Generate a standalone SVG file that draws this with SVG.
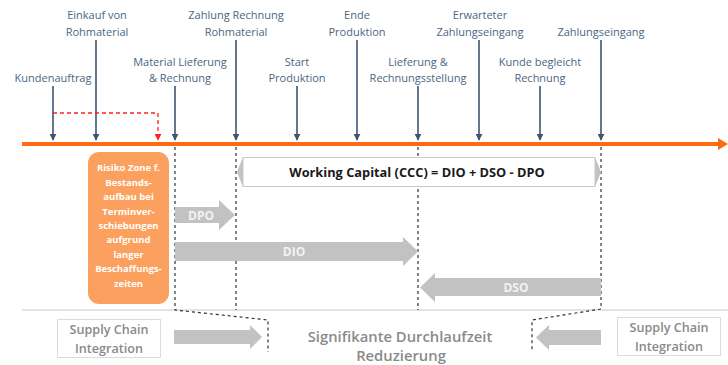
<svg xmlns="http://www.w3.org/2000/svg" width="728" height="365" viewBox="0 0 728 365">
<style>
.lbl{font-family:"Open Sans","Liberation Sans",sans-serif;font-size:11px;fill:#4a6683;text-anchor:middle}
.vt{stroke:#3b5573;stroke-width:1.6;fill:none}
.dash{stroke:#333;stroke-width:1.2;stroke-dasharray:3,3;fill:none}
.risk{font-family:"Open Sans","Liberation Sans",sans-serif;font-size:9.5px;font-weight:bold;fill:#fff;text-anchor:middle}
.gar{fill:#c2c2c2}
.gtxt{font-family:"Open Sans","Liberation Sans",sans-serif;font-size:12px;font-weight:bold;fill:#f2f2f2;text-anchor:middle}
.sc{font-family:"Open Sans","Liberation Sans",sans-serif;font-size:12.6px;font-weight:600;fill:#8a8a8a;text-anchor:middle}
</style>
<defs>
<marker id="ahd" viewBox="0 0 10 10" refX="9" refY="5" markerWidth="7" markerHeight="7" orient="auto" markerUnits="userSpaceOnUse">
<path d="M0,0 L10,5 L0,10 Z" fill="#3b5573"/>
</marker>
<marker id="ahr" viewBox="0 0 10 10" refX="9" refY="5" markerWidth="7" markerHeight="7" orient="auto" markerUnits="userSpaceOnUse">
<path d="M0,0 L10,5 L0,10 Z" fill="#ff2020"/>
</marker>
</defs>

<g id="timeline">
<line x1="22" y1="144" x2="720" y2="144" stroke="#ff6a13" stroke-width="4"/>
<path d="M718,138 L728,144 L718,150 Z" fill="#ff6a13"/>
</g>

<line x1="22" y1="310" x2="728" y2="310" stroke="#c8c8c8" stroke-width="1.2"/>

<g id="connectors">
<line class="vt" x1="53" y1="86" x2="53" y2="140" marker-end="url(#ahd)"/>
<line class="vt" x1="96" y1="40" x2="96" y2="140" marker-end="url(#ahd)"/>
<line class="vt" x1="175" y1="86" x2="175" y2="140" marker-end="url(#ahd)"/>
<line class="vt" x1="236" y1="40" x2="236" y2="140" marker-end="url(#ahd)"/>
<line class="vt" x1="297" y1="86" x2="297" y2="140" marker-end="url(#ahd)"/>
<line class="vt" x1="357" y1="40" x2="357" y2="140" marker-end="url(#ahd)"/>
<line class="vt" x1="418" y1="86" x2="418" y2="140" marker-end="url(#ahd)"/>
<line class="vt" x1="479" y1="40" x2="479" y2="140" marker-end="url(#ahd)"/>
<line class="vt" x1="540" y1="86" x2="540" y2="140" marker-end="url(#ahd)"/>
<line class="vt" x1="601" y1="40" x2="601" y2="140" marker-end="url(#ahd)"/>
<path d="M53,113 H158 V140" stroke="#ff2020" stroke-width="1.3" stroke-dasharray="4,3" fill="none" marker-end="url(#ahr)"/>
<path class="dash" d="M175,147 V310 L268,320 V352"/>
<path class="dash" d="M236,147 V310"/>
<path class="dash" d="M418,147 V310"/>
<path class="dash" d="M601,147 V309 L532,320 V352"/>
</g>

<g id="labels">
<text class="lbl" x="53" y="82">Kundenauftrag</text>
<text class="lbl" x="97" y="19">Einkauf von</text>
<text class="lbl" x="97" y="36">Rohmaterial</text>
<text class="lbl" x="180" y="66">Material Lieferung</text>
<text class="lbl" x="180" y="82">&amp; Rechnung</text>
<text class="lbl" x="236" y="19">Zahlung Rechnung</text>
<text class="lbl" x="236" y="36">Rohmaterial</text>
<text class="lbl" x="297" y="66">Start</text>
<text class="lbl" x="297" y="82">Produktion</text>
<text class="lbl" x="357" y="19">Ende</text>
<text class="lbl" x="357" y="36">Produktion</text>
<text class="lbl" x="418" y="66">Lieferung &amp;</text>
<text class="lbl" x="418" y="82">Rechnungsstellung</text>
<text class="lbl" x="480" y="19">Erwarteter</text>
<text class="lbl" x="480" y="36">Zahlungseingang</text>
<text class="lbl" x="540" y="66">Kunde begleicht</text>
<text class="lbl" x="540" y="82">Rechnung</text>
<text class="lbl" x="601" y="36">Zahlungseingang</text>
</g>

<g id="risiko">
<rect x="88" y="152" width="81" height="152" rx="11" fill="#fba05e"/>
<text class="risk" x="128.5" y="171">Risiko Zone f.</text>
<text class="risk" x="128.5" y="186">Bestands-</text>
<text class="risk" x="128.5" y="200">aufbau bei</text>
<text class="risk" x="128.5" y="215">Terminver-</text>
<text class="risk" x="128.5" y="229">schiebungen</text>
<text class="risk" x="128.5" y="243">aufgrund</text>
<text class="risk" x="128.5" y="258">langer</text>
<text class="risk" x="128.5" y="272">Beschaffungs-</text>
<text class="risk" x="128.5" y="287">zeiten</text>
</g>

<g id="wc">
<path d="M243,157 L237,172 L243,187 Z" fill="#c2c2c2"/>
<path d="M595,157 L601,172 L595,187 Z" fill="#c2c2c2"/>
<rect x="243" y="157.5" width="352" height="29" fill="#fff" stroke="#c8c8c8" stroke-width="1"/>
<text x="417" y="177" font-family="'Open Sans','Liberation Sans',sans-serif" font-size="12.8px" font-weight="bold" fill="#1a1a1a" text-anchor="middle">Working Capital (CCC) = DIO + DSO - DPO</text>
</g>

<g id="dpo">
<path class="gar" d="M175,207 H219 V200 L235,215 L219,230 V223 H175 Z"/>
<text class="gtxt" x="201" y="219.5">DPO</text>
</g>
<g id="dio">
<path class="gar" d="M175,242 H403 V237 L418,251.5 L403,266 V261 H175 Z"/>
<text class="gtxt" x="294" y="256">DIO</text>
</g>
<g id="dso">
<path class="gar" d="M601,278 H435 V273 L420,287.5 L435,302 V296 H601 Z"/>
<text class="gtxt" x="516" y="292">DSO</text>
</g>

<g id="sc-left">
<rect x="57.5" y="319.5" width="103" height="38" fill="#fff" stroke="#dcdcdc" stroke-width="1"/>
<text class="sc" x="109" y="334">Supply Chain</text>
<text class="sc" x="109" y="353">Integration</text>
</g>
<g id="sc-right">
<rect x="617.5" y="317.5" width="103" height="38" fill="#fff" stroke="#dcdcdc" stroke-width="1"/>
<text class="sc" x="669" y="332">Supply Chain</text>
<text class="sc" x="669" y="351">Integration</text>
</g>
<g id="arrow-left-bottom">
<path class="gar" d="M174,330 H250 V325 L262,337 L250,349 V344 H174 Z"/>
</g>
<g id="arrow-right-bottom">
<path class="gar" d="M601,330 H549 V325 L536,337.5 L549,350 V345 H601 Z"/>
</g>
<g id="center-text">
<text x="400" y="342" font-family="'Open Sans','Liberation Sans',sans-serif" font-size="14.8px" font-weight="600" fill="#8a8a8a" text-anchor="middle">Signifikante Durchlaufzeit</text>
<text x="401" y="361" font-family="'Open Sans','Liberation Sans',sans-serif" font-size="14.8px" font-weight="600" fill="#8a8a8a" text-anchor="middle">Reduzierung</text>
</g>
</svg>
